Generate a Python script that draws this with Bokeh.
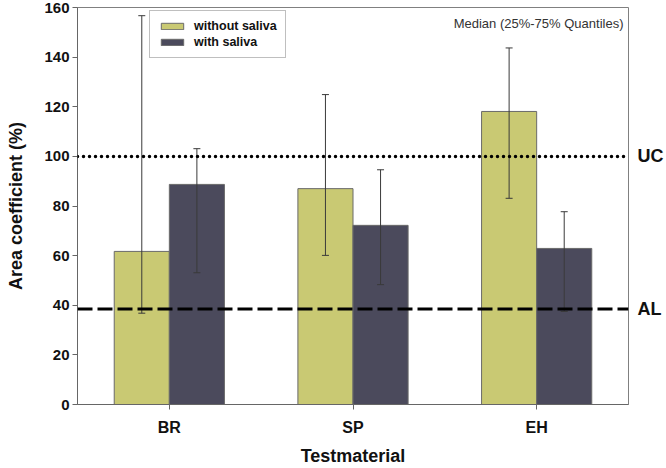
from bokeh.plotting import figure
from bokeh.models import (ColumnDataSource, FactorRange, Range1d, FixedTicker,
                          Whisker, TeeHead, Span, Label, LinearAxis)
from bokeh.transform import dodge
from bokeh.embed import file_html
from bokeh.resources import INLINE

# ---- data ----
categories = ["BR", "SP", "EH"]
series_names = ["without saliva", "with saliva"]
without_median = [61.7, 87.0, 118.1]
without_q25 = [36.8, 60.1, 83.1]
without_q75 = [156.7, 124.9, 143.7]
with_median = [88.7, 72.2, 62.9]
with_q25 = [53.1, 48.3, 37.5]
with_q75 = [103.1, 94.6, 77.7]
uc_level = 100
al_level = 38.5
line_names = ["UC", "AL"]
y_ticks = [0, 20, 40, 60, 80, 100, 120, 140, 160]
note_text = "Median (25%-75% Quantiles)"

FONT = "Liberation Sans"
YELLOW = "#c9c973"
DARK = "#4b4a5c"
EDGE = "#6a6a6a"

src = ColumnDataSource(dict(cat=categories,
                            wo_med=without_median, wo_lo=without_q25, wo_hi=without_q75,
                            w_med=with_median, w_lo=with_q25, w_hi=with_q75))

p = figure(x_range=FactorRange(*categories), y_range=Range1d(0, 160),
           width=666, height=468, output_backend="svg", toolbar_location=None,
           min_border_left=77, min_border_right=37, min_border_top=7,
           min_border_bottom=64)

bw = 0.3
p.vbar(x=dodge("cat", -bw / 2, range=p.x_range), top="wo_med", width=bw, source=src,
       fill_color=YELLOW, line_color=EDGE, line_width=1, legend_label=series_names[0])
p.vbar(x=dodge("cat", bw / 2, range=p.x_range), top="w_med", width=bw, source=src,
       fill_color=DARK, line_color=EDGE, line_width=1, legend_label=series_names[1])

for off, lo, hi in [(-bw / 2, "wo_lo", "wo_hi"), (bw / 2, "w_lo", "w_hi")]:
    w = Whisker(source=src, base=dodge("cat", off, range=p.x_range), lower=lo, upper=hi,
                line_color="#3a3a3a", line_width=1, level="annotation",
                upper_head=TeeHead(size=7, line_color="#3a3a3a", line_width=1),
                lower_head=TeeHead(size=7, line_color="#3a3a3a", line_width=1))
    p.add_layout(w)

p.add_layout(Span(location=uc_level, dimension="width", line_color="black",
                  line_width=3.5, line_dash="0 6", line_cap="round", level="overlay"))
p.add_layout(Span(location=al_level, dimension="width", line_color="black",
                  line_width=3, line_dash="15 5", level="overlay"))

# right-hand axis carrying the UC / AL labels
rax = LinearAxis(ticker=FixedTicker(ticks=[uc_level, al_level]),
                 major_label_overrides={uc_level: line_names[0], al_level: line_names[1]},
                 axis_line_color=None, major_tick_line_color=None,
                 minor_tick_line_color=None, major_tick_out=0, major_tick_in=0,
                 major_label_standoff=9, major_label_text_font=FONT,
                 major_label_text_font_size="18px", major_label_text_font_style="bold",
                 major_label_text_color="#111111")
p.add_layout(rax, "right")

p.add_layout(Label(x=3, y=160, text=note_text, x_offset=-5, y_offset=-8,
                   text_align="right", text_baseline="top", text_font=FONT,
                   text_font_size="13px", text_color="#333333"))

# axes
p.xgrid.grid_line_color = None
p.ygrid.grid_line_color = None
p.outline_line_color = "#808080"
p.outline_line_width = 1

p.yaxis[0].ticker = FixedTicker(ticks=y_ticks)
p.yaxis[0].axis_label = "Area coefficient (%)"
p.xaxis.axis_label = "Testmaterial"
for ax in (p.xaxis[0], p.yaxis[0]):
    ax.axis_line_color = "#666666"
    ax.major_tick_line_color = "#666666"
    ax.major_tick_in = 0
    ax.major_tick_out = 5
    ax.minor_tick_line_color = None
    ax.major_label_text_font = FONT
    ax.major_label_text_font_style = "bold"
    ax.major_label_text_color = "#111111"
    ax.axis_label_text_font = FONT
    ax.axis_label_text_font_style = "bold"
    ax.axis_label_text_font_size = "18px"
    ax.axis_label_text_color = "#111111"
p.yaxis[0].major_label_text_font_size = "15px"
p.yaxis[0].major_label_standoff = 3
p.yaxis[0].axis_label_standoff = 15
p.xaxis[0].major_label_text_font_size = "16px"
p.xaxis[0].major_label_standoff = 9
p.xaxis[0].axis_label_standoff = 7

lg = p.legend[0]
lg.location = (72, 346)
lg.border_line_color = "#7f7f7f"
lg.border_line_width = 1
lg.background_fill_color = "white"
lg.background_fill_alpha = 1
lg.label_text_font = FONT
lg.label_text_font_style = "bold"
lg.label_text_font_size = "12.5px"
lg.label_text_color = "#111111"
lg.glyph_width = 28
lg.glyph_height = 8
lg.label_height = 14
lg.label_standoff = 8
lg.spacing = 2
lg.padding = 8
lg.margin = 0

open("out.html", "w").write(file_html(p, INLINE))
